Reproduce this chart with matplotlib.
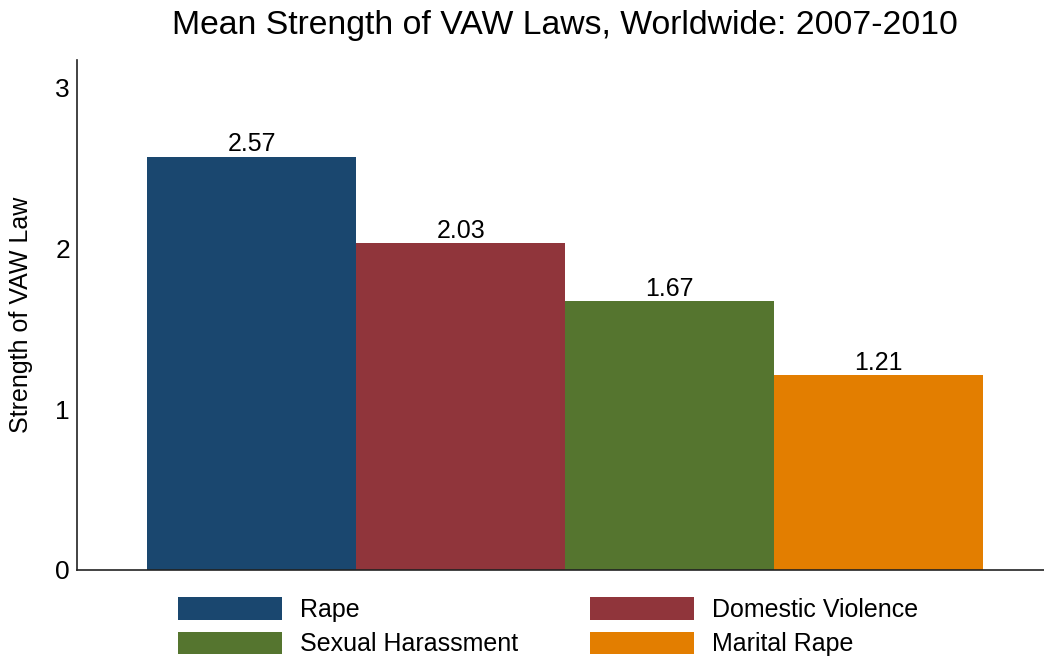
import matplotlib
matplotlib.use("Agg")
import matplotlib.pyplot as plt
from matplotlib.patches import Patch

plt.rcParams['font.family'] = ['Liberation Sans', 'DejaVu Sans']

categories = ["Rape", "Domestic Violence", "Sexual Harassment", "Marital Rape"]
values = [2.57, 2.03, 1.67, 1.21]
value_labels = ["2.57", "2.03", "1.67", "1.21"]
colors = ["#1a476f", "#90353b", "#55752f", "#e37e00"]
y_ticks = [0, 1, 2, 3]

fig = plt.figure(figsize=(10.44, 6.6), dpi=100)
ax = fig.add_axes([0.0738, 0.1364, 0.9262, 0.7727])

positions = range(len(categories))
bars = ax.bar(positions, values, width=1.0, color=colors, edgecolor="none")
for bar, lab in zip(bars, value_labels):
    ax.text(bar.get_x() + bar.get_width() / 2, bar.get_height() + 0.005, lab,
            ha="center", va="bottom", fontsize=18, color="black")

ax.set_xlim(-0.835, 3.79)
ax.set_ylim(0, 3.17)
ax.set_yticks(y_ticks)
ax.set_yticklabels([str(t) for t in y_ticks], fontsize=19)
ax.tick_params(axis="y", length=0, pad=5)
ax.set_xticks([])
for side in ("top", "right"):
    ax.spines[side].set_visible(False)
for side in ("left", "bottom"):
    ax.spines[side].set_linewidth(1.2)
    ax.spines[side].set_color("#222222")
ax.set_ylabel("Strength of VAW Law", fontsize=18, labelpad=16)

fig.text(0.541, 0.962, "Mean Strength of VAW Laws, Worldwide: 2007-2010",
         fontsize=24.3, ha="center", va="center")

# legend filled row by row: reorder entries for matplotlib's column-major layout
order = [0, 2, 1, 3]
handles = [Patch(facecolor=colors[i], edgecolor="none") for i in order]
labels = [categories[i] for i in order]
ax.legend(handles, labels, ncol=2, loc="upper center",
          bbox_to_anchor=(0.487, -0.029), frameon=False, fontsize=18,
          handlelength=4.16, handleheight=1.0, handletextpad=0.72,
          columnspacing=2.9, labelspacing=0.38, borderpad=0)

fig.savefig("out.png", dpi=100, facecolor="white")
